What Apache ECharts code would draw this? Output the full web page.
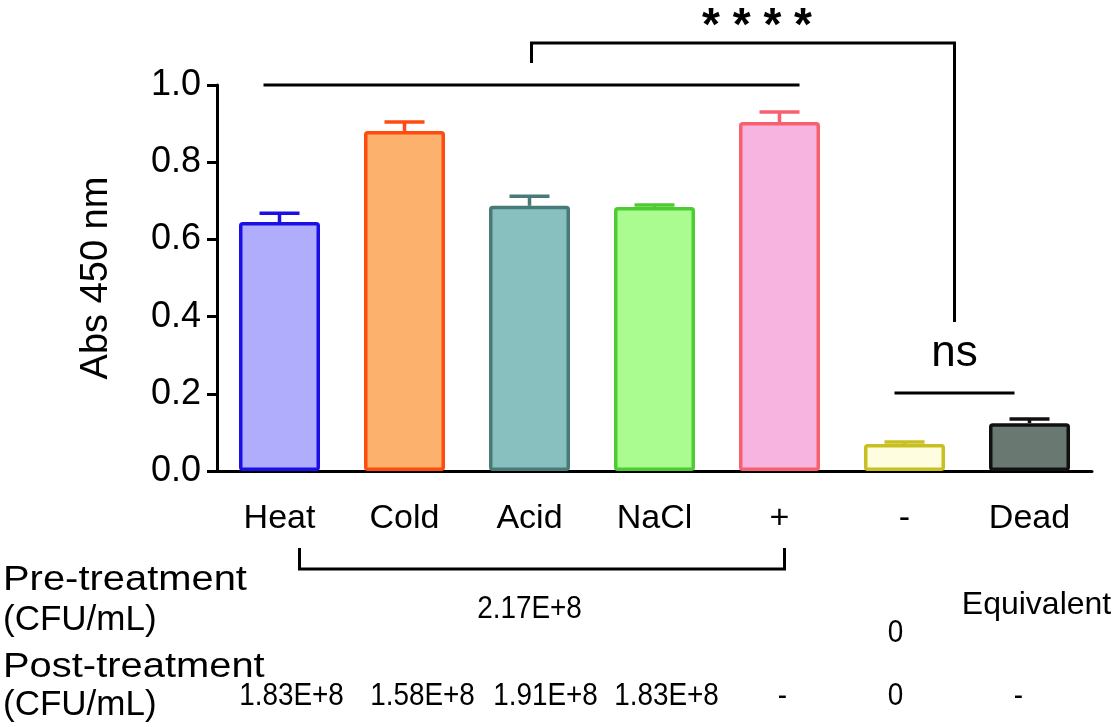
<!DOCTYPE html>
<html>
<head>
<meta charset="utf-8">
<script src="https://cdn.jsdelivr.net/npm/echarts@6/dist/echarts.min.js"></script>
<style>
  html, body { margin: 0; padding: 0; background: #fff; }
  #chart { width: 1115px; height: 727px; }
</style>
</head>
<body>
<div id="chart"></div>
<script>
// data
var categories = ['Heat', 'Cold', 'Acid', 'NaCl', '+', '-', 'Dead'];
var absMeans = [0.645, 0.881, 0.687, 0.684, 0.904, 0.070, 0.124];
var absErrors = [0.023, 0.023, 0.025, 0.005, 0.026, 0.005, 0.011];
var yTicks = [0, 0.2, 0.4, 0.6, 0.8, 1.0];
var preTreatment = ['2.17E+8', '0', 'Equivalent'];
var preTreatmentCats = [2, 5, 6];
var postTreatment = ['1.83E+8', '1.58E+8', '1.91E+8', '1.83E+8', '-', '0', '-'];

// styles
var fillColors = ['#b0aefc', '#fcb26c', '#88c0c0', '#aafc90', '#f8b4e0', '#fffde0', '#6a7872'];
var edgeColors = ['#1a10e6', '#ff4a10', '#4a7a78', '#4ccc30', '#f86070', '#c8c020', '#111111'];
var postShift = [12, 18, 16, 12, 3, -9, -11];
var FONT = '"Liberation Sans", Arial, sans-serif';

var chart = echarts.init(document.getElementById('chart'));

chart.setOption({
    backgroundColor: '#fff',
    animation: false,
    grid: { left: 217, top: 85, width: 875, height: 386 },
    xAxis: {
        type: 'category',
        data: categories,
        axisLine: { lineStyle: { color: '#000', width: 3 } },
        axisTick: { alignWithLabel: true, length: 11, lineStyle: { color: '#000', width: 3 } },
        axisLabel: { color: '#000', fontSize: 34, fontFamily: FONT, margin: 31 }
    },
    yAxis: {
        type: 'value',
        min: yTicks[0],
        max: yTicks[yTicks.length - 1],
        interval: 0.2,
        name: 'Abs 450 nm',
        nameLocation: 'middle',
        nameGap: 101,
        nameTextStyle: { color: '#000', fontSize: 38, fontFamily: FONT },
        splitLine: { show: false },
        axisLine: { show: true, lineStyle: { color: '#000', width: 3 } },
        axisTick: { show: true, length: 10, lineStyle: { color: '#000', width: 3 } },
        axisLabel: {
            color: '#000', fontSize: 36, fontFamily: FONT, margin: 16,
            formatter: function (v) { return v.toFixed(1); }
        }
    },
    series: [
        {
            type: 'custom',
            z: 1,
            data: absMeans.map(function (m, i) { return [i, m, absErrors[i]]; }),
            renderItem: function (params, api) {
                var base = api.coord([api.value(0), api.value(1)]);
                var top = api.coord([api.value(0), api.value(1) + api.value(2)]);
                var color = edgeColors[params.dataIndex];
                return {
                    type: 'group',
                    children: [
                        { type: 'line', shape: { x1: base[0], y1: base[1], x2: top[0], y2: top[1] },
                          style: { stroke: color, lineWidth: 3.5 } },
                        { type: 'line', shape: { x1: top[0] - 20, y1: top[1], x2: top[0] + 20, y2: top[1] },
                          style: { stroke: color, lineWidth: 3.5 } }
                    ]
                };
            }
        },
        {
            type: 'bar',
            z: 2,
            barWidth: 81,
            data: absMeans.map(function (m, i) {
                return {
                    value: m,
                    itemStyle: { color: fillColors[i], borderColor: edgeColors[i], borderWidth: 3.5, borderRadius: 2 }
                };
            })
        }
    ]
});

// annotations placed from the axes' own scales
function px(i) { return chart.convertToPixel({ xAxisIndex: 0 }, i); }
function py(v) { return chart.convertToPixel({ yAxisIndex: 0 }, v); }

var lineStyle = { stroke: '#000', lineWidth: 3, fill: null };
var groupY = py(1.0);
var groupX1 = px(0) - 16, groupX2 = px(4) + 20;
var nsX1 = px(5) - 10, nsX2 = px(6) - 15, nsY = py(0.202);
var leftLeg = (groupX1 + groupX2) / 2, rightLeg = (nsX1 + nsX2) / 2;
var bracketTop = py(1.109);
var axisY = py(0);

function txt(text, x, y, size, align, scaleX, weight) {
    return {
        type: 'text', x: x, y: y, scaleX: scaleX || 1,
        style: { text: text, fill: '#000', fontSize: size, fontFamily: FONT, fontWeight: weight || 'normal',
                 textAlign: align || 'center', textVerticalAlign: 'middle' }
    };
}

var graphics = [
    { type: 'line', shape: { x1: groupX1, y1: groupY, x2: groupX2, y2: groupY }, style: lineStyle },
    { type: 'polyline', shape: { points: [[leftLeg, py(1.057)], [leftLeg, bracketTop], [rightLeg, bracketTop], [rightLeg, py(0.386)]] },
      style: lineStyle },
    txt('* * * *', (leftLeg + rightLeg) / 2 + 14, 27, 46, 'center', 1, 'bold'),
    { type: 'line', shape: { x1: nsX1, y1: nsY, x2: nsX2, y2: nsY }, style: lineStyle },
    txt('ns', rightLeg, 354, 44),
    { type: 'polyline', shape: { points: [[px(0) + 20, axisY + 77], [px(0) + 20, axisY + 98], [px(4) + 5, axisY + 98], [px(4) + 5, axisY + 77]] },
      style: lineStyle },
    txt('Pre-treatment', 3, 580, 35, 'left', 1.14),
    txt('(CFU/mL)', 3, 620, 35, 'left'),
    txt('Post-treatment', 3, 667, 35, 'left', 1.14),
    txt('(CFU/mL)', 3, 705, 35, 'left')
];

preTreatment.forEach(function (t, k) {
    var c = preTreatmentCats[k];
    if (c === 6) {
        graphics.push(txt(t, px(c) + 7, 605, 32));
    } else {
        graphics.push(txt(t, px(c) + (c === 5 ? -9 : 0), c === 5 ? 633 : 609, 31, 'center', 0.9));
    }
});
postTreatment.forEach(function (t, i) {
    graphics.push(txt(t, px(i) + postShift[i], 696, 31, 'center', 0.9));
});

chart.setOption({ graphic: graphics });
</script>
</body>
</html>
